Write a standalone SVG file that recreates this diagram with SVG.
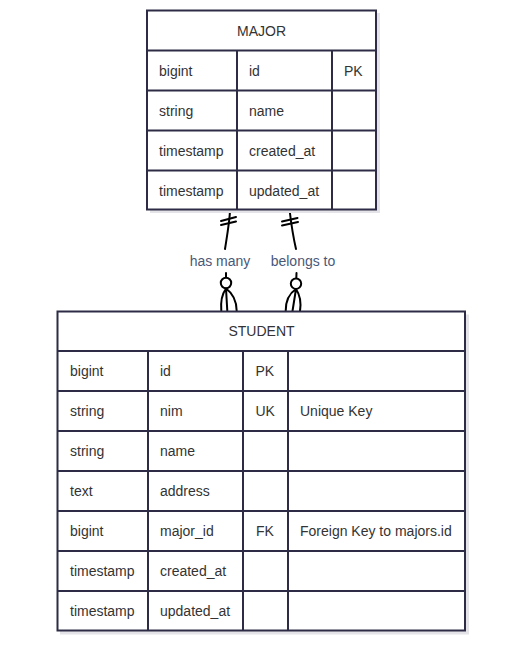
<svg xmlns="http://www.w3.org/2000/svg" width="522" height="657" viewBox="0 0 522 657">
<style>
.bg{fill:#ffffff}
.shadow{fill:#e4e4e8}
.box{fill:#ffffff;stroke:#2d2b45;stroke-width:2}
.grid{stroke:#2d2b45;stroke-width:2;fill:none}
.t{font-family:"Liberation Sans",Arial,sans-serif;font-size:14px;fill:#333333;dominant-baseline:central}
.h{text-anchor:middle}
.lbl{font-family:"Liberation Sans",Arial,sans-serif;font-size:14px;fill:#4a5878;text-anchor:middle;dominant-baseline:central}
.edge{fill:none;stroke:#000000;stroke-width:2;stroke-linecap:round}
.circ{fill:#ffffff;stroke:#000000;stroke-width:2}
</style>
<rect class="bg" x="0" y="0" width="522" height="657"/>

<g id="connectors">
  <!-- has many -->
  <path class="edge" d="M230,211 C229.5,222 227,236 225,249"/>
  <path class="edge" d="M221,221 L236,217 M221,225 L236,221.5"/>
  <path class="edge" d="M226,273 L226,278"/>
  <circle class="circ" cx="226" cy="283" r="5.2"/>
  <path class="edge" d="M226,288.5 Q220,297 221.3,311 M226,288.5 L227.3,311 M226,288.5 Q236.5,296 236.7,311"/>
  <!-- belongs to -->
  <path class="edge" d="M289.7,211 C291,222 293,236 296,249"/>
  <path class="edge" d="M282,221.5 L297.5,218 M282,225.5 L298,222"/>
  <path class="edge" d="M296.5,273 L296.3,278.5"/>
  <circle class="circ" cx="296" cy="283.7" r="5.2"/>
  <path class="edge" d="M296,289 Q285.5,296 285.7,311 M296,289 L292.5,311 M296,289 Q302,298 300,311"/>
  <text class="lbl" x="220" y="261">has many</text>
  <text class="lbl" x="303" y="261">belongs to</text>
</g>

<g id="major">
  <rect class="shadow" x="150" y="13" width="230" height="200"/>
  <rect class="box" x="147" y="10.5" width="229" height="199"/>
  <path class="grid" d="M147,50.5 H376 M147,90.5 H376 M147,130.5 H376 M147,170.5 H376 M237,50.5 V209.5 M332,50.5 V209.5"/>
  <text class="t h" x="261.5" y="30.5">MAJOR</text>
  <text class="t" x="159" y="70.5">bigint</text>
  <text class="t" x="249" y="70.5">id</text>
  <text class="t" x="344" y="70.5">PK</text>
  <text class="t" x="159" y="110.5">string</text>
  <text class="t" x="249" y="110.5">name</text>
  <text class="t" x="159" y="150.5">timestamp</text>
  <text class="t" x="249" y="150.5">created_at</text>
  <text class="t" x="159" y="190.5">timestamp</text>
  <text class="t" x="249" y="190.5">updated_at</text>
</g>

<g id="student">
  <rect class="shadow" x="60" y="314.5" width="409" height="320"/>
  <rect class="box" x="57.5" y="311.5" width="407.5" height="319"/>
  <path class="grid" d="M57.5,351 H465 M57.5,391 H465 M57.5,431 H465 M57.5,471 H465 M57.5,511 H465 M57.5,551 H465 M57.5,591 H465 M148,351 V630.5 M243,351 V630.5 M288,351 V630.5"/>
  <text class="t h" x="261.5" y="331">STUDENT</text>
  <text class="t" x="70" y="371">bigint</text>
  <text class="t" x="160" y="371">id</text>
  <text class="t" x="255.5" y="371">PK</text>
  <text class="t" x="70" y="411">string</text>
  <text class="t" x="160" y="411">nim</text>
  <text class="t" x="255.5" y="411">UK</text>
  <text class="t" x="300" y="411">Unique Key</text>
  <text class="t" x="70" y="451">string</text>
  <text class="t" x="160" y="451">name</text>
  <text class="t" x="70" y="491">text</text>
  <text class="t" x="160" y="491">address</text>
  <text class="t" x="70" y="531">bigint</text>
  <text class="t" x="160" y="531">major_id</text>
  <text class="t" x="256" y="531">FK</text>
  <text class="t" x="300" y="531">Foreign Key to majors.id</text>
  <text class="t" x="70" y="571">timestamp</text>
  <text class="t" x="160" y="571">created_at</text>
  <text class="t" x="70" y="611">timestamp</text>
  <text class="t" x="160" y="611">updated_at</text>
</g>
</svg>
